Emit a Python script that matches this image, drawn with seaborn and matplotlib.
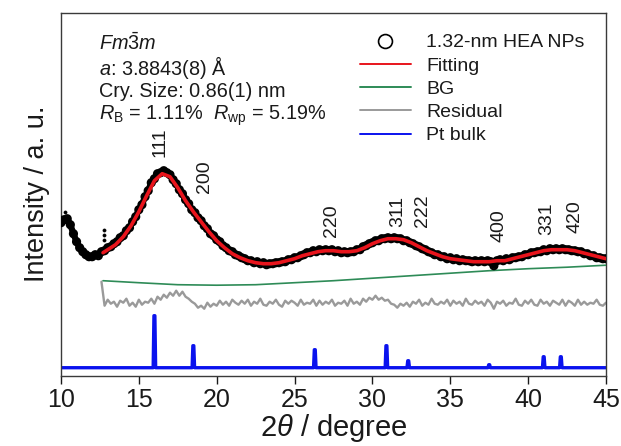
import numpy as np
import pandas as pd
import matplotlib
matplotlib.use("Agg")
import matplotlib.pyplot as plt
from matplotlib.lines import Line2D
import seaborn as sns

# ---------------- data ----------------
obs_start, obs_step = 10.0, 0.2
obs_intensity = [
    153, 156, 157, 151, 142, 134, 128, 124, 121, 119,
    119, 121, 120, 124, 125, 128, 129, 132, 134, 138,
    140, 145, 148, 154, 159, 166, 171, 179, 185, 193,
    197, 202, 203, 205, 203, 201, 196, 192, 186, 182,
    176, 172, 166, 163, 158, 155, 150, 147, 142, 140,
    136, 134, 130, 128, 125, 124, 121, 120, 118, 117,
    115, 115, 113, 114, 112, 113, 111, 112, 112, 113,
    113, 114, 114, 116, 116, 118, 118, 120, 121, 123,
    123, 125, 124, 126, 125, 126, 125, 126, 124, 125,
    123, 124, 123, 124, 124, 126, 126, 129, 130, 132,
    133, 135, 135, 137, 137, 138, 137, 138, 137, 137,
    135, 135, 133, 132, 130, 129, 127, 126, 124, 123,
    121, 121, 119, 119, 117, 118, 116, 117, 115, 116,
    115, 115, 114, 115, 114, 115, 114, 115, 114, 110,
    115, 116, 115, 117, 116, 118, 118, 119, 119, 121,
    121, 123, 123, 124, 124, 126, 125, 127, 126, 127,
    126, 127, 126, 126, 125, 125, 124, 124, 122, 122,
    120, 120, 118, 118, 117, 117,
]
obs_extra_2theta = [10.26, 12.76, 12.76, 12.76]
obs_extra_intensity = [164, 146, 141, 136]

fit_2theta = np.r_[12.7, np.arange(13.0, 45.01, 0.5)]
fit_intensity = [
    123, 126, 131, 139, 150, 164, 180, 195, 202, 199,
    188, 175, 164, 154, 144, 135, 128, 122, 118, 115,
    113, 112, 112, 113, 115, 117, 120, 122, 124, 125,
    125, 124, 124, 125, 128, 132, 135, 137, 137, 136,
    133, 129, 125, 122, 119, 117, 116, 115, 114, 114,
    114, 115, 115, 117, 119, 121, 123, 125, 126, 126,
    126, 125, 123, 121, 119, 117,
]

bg_2theta = [12.7, 15, 17.5, 20, 22.5, 25, 27.5, 30, 32.5, 35, 37.5, 40, 42.5, 45]
bg_intensity = [95, 93, 91, 90.5, 91, 93, 95, 97.5, 100, 102.5, 105, 107, 108.5, 110.5]

res_start, res_step = 12.6, 0.2
res_intensity = [
    94, 70, 76, 72, 74, 69, 75, 73, 77, 70,
    73, 69, 76, 71, 74, 73, 77, 72, 79, 76,
    81, 78, 83, 80, 85, 80, 84, 79, 77, 74,
    72, 68, 70, 67, 73, 69, 72, 70, 75, 71,
    74, 70, 76, 73, 71, 75, 72, 76, 70, 74,
    72, 77, 71, 70, 74, 72, 76, 71, 69, 75,
    72, 75, 73, 70, 76, 71, 73, 72, 76, 70,
    75, 71, 74, 72, 76, 70, 73, 72, 75, 70,
    77, 72, 74, 71, 77, 74, 78, 76, 80, 76,
    78, 75, 76, 72, 71, 68, 72, 70, 73, 69,
    74, 72, 76, 70, 73, 71, 77, 72, 71, 74,
    72, 76, 70, 75, 72, 74, 70, 77, 72, 71,
    75, 72, 74, 70, 76, 73, 67, 74, 72, 75,
    70, 73, 72, 77, 71, 70, 75, 72, 76, 71,
    70, 76, 72, 74, 70, 75, 73, 71, 76, 70,
    75, 73, 70, 76, 71, 74, 71, 73, 72, 76,
    71, 70, 73,
]

pt_2theta = [16.0, 18.5, 26.3, 30.9, 32.3, 37.5, 41.0, 42.1]
pt_intensity = [60, 30, 26, 30, 15, 11, 19, 19]
pt_base = 8
pt_halfwidth = 0.08

hkl_labels = ["111", "200", "220", "311", "222", "400", "331", "420"]
hkl_2theta = [16.35, 19.2, 27.4, 31.6, 33.2, 38.1, 41.2, 43.0]
hkl_y = [219, 183, 139, 149, 149, 134, 141, 143]

info_lines = [
    r"$\mathit{Fm\bar{3}m}$",
    r"$\mathit{a}$: 3.8843(8) Å",
    "Cry. Size: 0.86(1) nm",
    r"$\mathit{R}_\mathrm{B}$ = 1.11%  $\mathit{R}_\mathrm{wp}$ = 5.19%",
]
legend_labels = ["1.32-nm HEA NPs", "Fitting", "BG", "Residual", "Pt bulk"]

# ---------------- build frames ----------------
obs_df = pd.DataFrame({
    "tt": obs_start + obs_step * np.arange(len(obs_intensity)),
    "I": obs_intensity,
})
extra_df = pd.DataFrame({"tt": obs_extra_2theta, "I": obs_extra_intensity})
n_fit = min(len(fit_2theta), len(fit_intensity))
fit_df = pd.DataFrame({"tt": fit_2theta[:n_fit], "I": fit_intensity[:n_fit]})
bg_df = pd.DataFrame({"tt": bg_2theta, "I": bg_intensity})
res_df = pd.DataFrame({
    "tt": res_start + res_step * np.arange(len(res_intensity)),
    "I": res_intensity,
})
pt_x, pt_y = [10.0], [pt_base]
for p, h in zip(pt_2theta, pt_intensity):
    pt_x += [p - pt_halfwidth, p - 0.03, p + 0.03, p + pt_halfwidth]
    pt_y += [pt_base, h, h, pt_base]
pt_x.append(45.0)
pt_y.append(pt_base)
pt_df = pd.DataFrame({"tt": pt_x, "I": pt_y})

# ---------------- style ----------------
sns.set_style("white")
plt.rcParams["font.family"] = ["Liberation Sans", "DejaVu Sans"]
plt.rcParams["mathtext.fontset"] = "custom"
plt.rcParams["mathtext.rm"] = "Liberation Sans"
plt.rcParams["mathtext.it"] = "Liberation Sans:italic"
plt.rcParams["mathtext.bf"] = "Liberation Sans:bold"

c_fit = "#e8141c"
c_bg = "#2e8b57"
c_res = "#9a9a9a"
c_pt = "#0a12ee"
c_txt = "#1a1a1a"

fig = plt.figure(figsize=(6.21, 4.46), dpi=100)
ax = fig.add_axes([0.0982, 0.1576, 0.8776, 0.8139])

sns.lineplot(data=pt_df, x="tt", y="I", ax=ax, color=c_pt, lw=2.4,
             estimator=None, sort=False, zorder=2)
sns.lineplot(data=res_df, x="tt", y="I", ax=ax, color=c_res, lw=1.7,
             estimator=None, zorder=2)
sns.lineplot(data=bg_df, x="tt", y="I", ax=ax, color=c_bg, lw=1.2,
             estimator=None, zorder=3)
sns.lineplot(data=obs_df, x="tt", y="I", ax=ax, color="black", lw=4.5,
             estimator=None, zorder=4)
sns.scatterplot(data=obs_df, x="tt", y="I", ax=ax, marker="o", s=26,
                facecolor="none", edgecolor="black", linewidth=1.5, zorder=4)
sns.scatterplot(data=extra_df, x="tt", y="I", ax=ax, marker="o", s=5,
                color="black", edgecolor="black", linewidth=0.5, zorder=4)
sns.lineplot(data=fit_df, x="tt", y="I", ax=ax, color=c_fit, lw=2.6,
             estimator=None, zorder=5)

ax.set_xlim(10, 45)
ax.set_ylim(0, 363)
ax.set_xticks(range(10, 46, 5))
ax.set_yticks([])
ax.tick_params(axis="x", direction="out", length=6, width=1.0,
               labelsize=18, colors=c_txt, bottom=True, pad=3)
for s in ax.spines.values():
    s.set_visible(True)
    s.set_color("#3a3a3a")
    s.set_linewidth(1.0)
ax.set_xlabel(r"2$\mathit{\theta}$ / degree", fontsize=21, color=c_txt, labelpad=0)
ax.set_ylabel("Intensity / a. u.", fontsize=19.5, color=c_txt, labelpad=8)

for lab, xx, yy in zip(hkl_labels, hkl_2theta, hkl_y):
    ax.text(xx, yy, lab, rotation=90, ha="center", va="bottom",
            fontsize=14, color=c_txt)

for i, line in enumerate(info_lines):
    ax.text(0.07, 0.915 - i * 0.066, line, transform=ax.transAxes,
            fontsize=14.3, color=c_txt, va="center", ha="left")

handles = [
    Line2D([], [], ls="none", marker="o", ms=10, mfc="none", mec="black", mew=1.2),
    Line2D([], [], color=c_fit, lw=1.4),
    Line2D([], [], color=c_bg, lw=1.4),
    Line2D([], [], color=c_res, lw=1.4),
    Line2D([], [], color=c_pt, lw=1.4),
]
leg = ax.legend(handles, legend_labels, loc="upper left",
                bbox_to_anchor=(0.549, 0.942), frameon=False, fontsize=14,
                handlelength=2.6, handletextpad=0.8, labelspacing=0.29,
                borderpad=0, borderaxespad=0)
for t in leg.get_texts():
    t.set_color(c_txt)

fig.savefig("out.png", dpi=100)
